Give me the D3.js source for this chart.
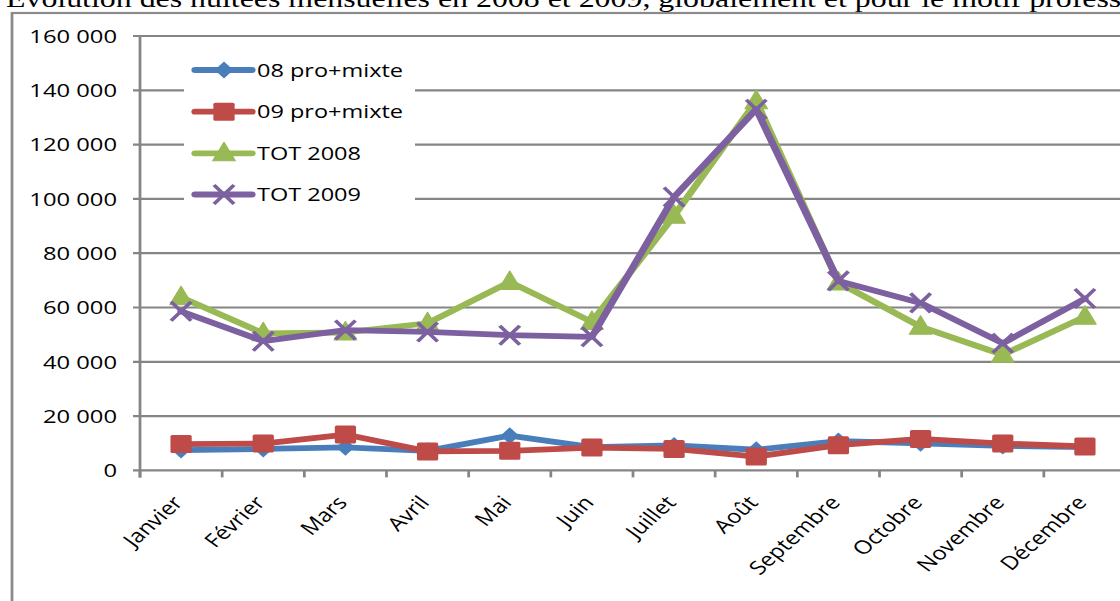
<!DOCTYPE html>
<html>
<head>
<meta charset="utf-8">
<script src="https://cdn.jsdelivr.net/npm/d3@7"></script>
<style>
  html, body { margin: 0; padding: 0; background: #fff; }
  svg { display: block; }
</style>
</head>
<body>
<svg id="chart" width="1120" height="601"></svg>
<script>
const title = "Évolution des nuitées mensuelles en 2008 et 2009, globalement et pour le motif professionnel";
const categories = ["Janvier","Février","Mars","Avril","Mai","Juin","Juillet","Août","Septembre","Octobre","Novembre","Décembre"];
const seriesNames = ["08 pro+mixte","09 pro+mixte","TOT 2008","TOT 2009"];
const pro08 = [7500, 7900, 8500, 7200, 12800, 8600, 9200, 7600, 10800, 10000, 9000, 8600];
const pro09 = [9700, 9900, 13200, 7000, 7200, 8400, 7900, 5100, 9300, 11600, 9900, 8800];
const tot08 = [63800, 50500, 50800, 54200, 69400, 54700, 93800, 136000, 69200, 52900, 42600, 56600];
const tot09 = [58600, 47600, 51700, 51000, 49800, 49200, 100700, 133000, 69800, 61700, 46800, 63300];
const yTicks = [0, 20000, 40000, 60000, 80000, 100000, 120000, 140000, 160000];

const colors = ["#4a7ebb", "#be4b48", "#98b954", "#7d60a0"];
const markers = ["diamond", "square", "triangle", "cross"];
const seriesData = [pro08, pro09, tot08, tot09];

const sx = 1.25; // horizontal stretch of the original picture
const svg = d3.select("#chart");
const g = svg.append("g").attr("transform", `scale(${sx},1)`);

const fr = d3.formatLocale({decimal: ",", thousands: " ", grouping: [3], currency: ["", ""]});
const fmt = fr.format(",");

const plotLeft = 140 / sx, plotRight = 1126 / sx, plotTop = 36, plotBottom = 470.4;
const x = d3.scaleBand().domain(categories).range([plotLeft, plotRight]);
const y = d3.scaleLinear().domain([0, 160000]).range([plotBottom, plotTop]);

const gridColor = "#858585";
const font = "'Open Sans', sans-serif";

// title (cut at the top edge, as in the reference)
g.append("text").attr("x", 6 / sx).attr("y", 7)
  .attr("font-family", "'Liberation Serif', 'Times New Roman', serif")
  .attr("font-size", 25.5).attr("fill", "#000").text(title);

// outer frame
g.append("rect").attr("x", 12 / sx).attr("y", 13).attr("width", 1200).attr("height", 700)
  .attr("fill", "none").attr("stroke", "#8a8a8a").attr("stroke-width", 2.2);

// gridlines + y ticks
g.append("g").selectAll("line").data(yTicks).join("line")
  .attr("x1", plotLeft - 7 / sx).attr("x2", plotRight)
  .attr("y1", d => y(d)).attr("y2", d => y(d))
  .attr("stroke", gridColor).attr("stroke-width", 2.2);

// y labels
g.append("g").selectAll("text").data(yTicks).join("text")
  .attr("x", 117 / sx).attr("y", d => y(d)).attr("dy", "0.36em")
  .attr("text-anchor", "end").attr("font-family", font).attr("font-size", 19)
  .attr("fill", "#000").text(d => fmt(d));

// y axis line
g.append("line").attr("x1", plotLeft).attr("x2", plotLeft).attr("y1", plotTop - 1).attr("y2", plotBottom + 7)
  .attr("stroke", gridColor).attr("stroke-width", 2.2);

// x ticks
const xTickPos = categories.map(c => x(c)).concat([plotRight]);
g.append("g").selectAll("line").data(xTickPos).join("line")
  .attr("x1", d => d).attr("x2", d => d).attr("y1", plotBottom).attr("y2", plotBottom + 7)
  .attr("stroke", gridColor).attr("stroke-width", 2.2);

// x labels
g.append("g").selectAll("text").data(categories).join("text")
  .attr("transform", d => `translate(${x(d) + x.bandwidth() / 2 + 3 / sx},${plotBottom + 33}) rotate(-48)`)
  .attr("text-anchor", "end").attr("font-family", font).attr("font-size", 19)
  .attr("fill", "#000").text(d => d);

// legend background (hides gridlines)
g.append("rect").attr("x", 184 / sx).attr("y", 48).attr("width", (415 - 184) / sx).attr("height", 166)
  .attr("fill", "#fff");

function drawMarker(sel, type, color) {
  if (type === "diamond") {
    sel.append("path").attr("d", "M0,-8.5L7.5,0L0,8.5L-7.5,0Z").attr("fill", color);
  } else if (type === "square") {
    sel.append("rect").attr("x", -8.5).attr("y", -9).attr("width", 17).attr("height", 18)
      .attr("rx", 1.5).attr("fill", color);
  } else if (type === "triangle") {
    sel.append("path").attr("d", "M0,-11L9,7.5L-9,7.5Z").attr("fill", color)
      .attr("stroke", color).attr("stroke-width", 1).attr("stroke-linejoin", "round");
  } else {
    sel.append("path").attr("d", "M-8,-9.5L8,9.5M-8,9.5L8,-9.5")
      .attr("stroke", color).attr("stroke-width", 3.2).attr("fill", "none");
  }
}

// series
const line = d3.line().x((d, i) => x(categories[i]) + x.bandwidth() / 2).y(d => y(d));
seriesData.forEach((data, s) => {
  const sg = g.append("g");
  sg.append("path").datum(data).attr("d", line).attr("fill", "none")
    .attr("stroke", colors[s]).attr("stroke-width", 5.8)
    .attr("stroke-linejoin", "round").attr("stroke-linecap", "round");
  data.forEach((v, i) => {
    const m = sg.append("g").attr("transform", `translate(${x(categories[i]) + x.bandwidth() / 2},${y(v)})`);
    drawMarker(m, markers[s], colors[s]);
  });
});

// legend
const legY = [70, 111.7, 153.3, 194.5];
seriesNames.forEach((name, s) => {
  const lg = g.append("g");
  lg.append("line").attr("x1", 195 / sx).attr("x2", 252 / sx).attr("y1", legY[s]).attr("y2", legY[s])
    .attr("stroke", colors[s]).attr("stroke-width", 5.8).attr("stroke-linecap", "round");
  const m = lg.append("g").attr("transform", `translate(${224 / sx},${legY[s]})`);
  drawMarker(m, markers[s], colors[s]);
  lg.append("text").attr("x", 257 / sx).attr("y", legY[s]).attr("dy", "0.36em")
    .attr("font-family", font).attr("font-size", 18.8).attr("fill", "#000").text(name);
});
</script>
</body>
</html>
